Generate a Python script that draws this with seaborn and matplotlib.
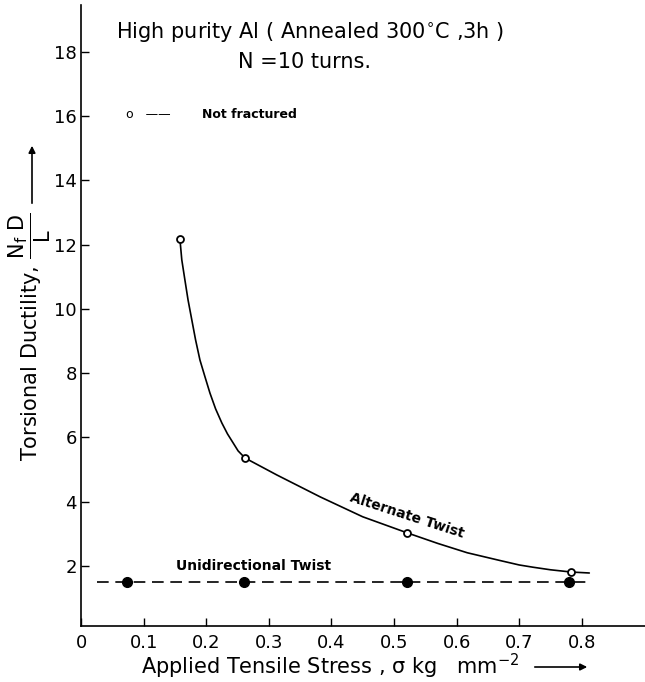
import matplotlib
matplotlib.use('Agg')
import matplotlib.pyplot as plt
import seaborn as sns
import pandas as pd

# ---- data ----
# alternate twist: points along the drawn curve
alt_curve_x = [0.158, 0.161, 0.166, 0.171, 0.177, 0.183, 0.190, 0.198, 0.206,
               0.215, 0.225, 0.234, 0.243, 0.251, 0.262, 0.313, 0.382, 0.450,
               0.521, 0.570, 0.617, 0.669, 0.700, 0.722, 0.750, 0.783, 0.812]
alt_curve_y = [12.18, 11.53, 10.90, 10.28, 9.66, 9.04, 8.41, 7.89, 7.38,
               6.89, 6.45, 6.11, 5.83, 5.58, 5.36, 4.83, 4.15, 3.53,
               3.03, 2.70, 2.41, 2.17, 2.03, 1.96, 1.88, 1.81, 1.78]
# alternate twist: measured points (not fractured, open circles)
alt_x = [0.158, 0.262, 0.521, 0.783]
alt_y = [12.18, 5.36, 3.03, 1.81]
# unidirectional twist: measured points (filled) and dashed line extent
uni_x = [0.073, 0.260, 0.520, 0.780]
uni_y = [1.50, 1.50, 1.50, 1.50]
uni_line_x = [0.026, 0.807]
uni_line_y = [1.50, 1.50]

x_ticks = [0, 0.1, 0.2, 0.3, 0.4, 0.5, 0.6, 0.7, 0.8]
x_tick_labels = ['0', '0.1', '0.2', '0.3', '0.4', '0.5', '0.6', '0.7', '0.8']
y_ticks = [2, 4, 6, 8, 10, 12, 14, 16, 18]

sns.set_style('ticks')
plt.rcParams['font.family'] = ['DejaVu Sans']
plt.rcParams['mathtext.fontset'] = 'dejavusans'
plt.rcParams['text.color'] = 'black'

fig = plt.figure(figsize=(6.45, 6.82), dpi=100)
ax = fig.add_axes([81 / 645, 56 / 682, 564 / 645, 621 / 682])

df_curve = pd.DataFrame({'x': alt_curve_x, 'y': alt_curve_y})
sns.lineplot(data=df_curve, x='x', y='y', sort=False, estimator=None,
             color='black', lw=1.2, ax=ax)
df_uni_line = pd.DataFrame({'x': uni_line_x, 'y': uni_line_y})
sns.lineplot(data=df_uni_line, x='x', y='y', sort=False, estimator=None,
             color='black', lw=1.2, ax=ax)
ax.lines[-1].set_dashes([7, 4])

ax.plot(alt_x, alt_y, 'o', ms=5, mfc='white', mec='black', mew=1.3, zorder=3)
ax.plot(uni_x, uni_y, 'o', ms=7, color='black', zorder=3)

ax.set_xlim(0, 0.901)
ax.set_ylim(0.13, 19.46)
ax.set_xticks(x_ticks)
ax.set_xticklabels(x_tick_labels)
ax.set_yticks(y_ticks)
ax.tick_params(direction='in', length=6, width=1, labelsize=13,
               colors='black', labelcolor='black')
ax.tick_params(axis='x', pad=6)
ax.tick_params(axis='y', pad=3)
ax.set_xlabel('')
ax.set_ylabel('')
sns.despine(ax=ax)
for s in ['left', 'bottom']:
    ax.spines[s].set_linewidth(1.2)
    ax.spines[s].set_color('black')

# annotations
ax.text(0.52, 3.56, 'Alternate Twist', rotation=-18, ha='center', va='center',
        fontsize=10, fontweight='bold')
ax.text(0.276, 2.0, 'Unidirectional Twist', ha='center', va='center',
        fontsize=10, fontweight='bold')

# titles
fig.text(310 / 645, 1 - 32 / 682, r'High purity Al ( Annealed 300$^{\circ}$C ,3h )',
         ha='center', va='center', fontsize=15)
fig.text(305 / 645, 1 - 62 / 682, 'N =10 turns.', ha='center', va='center', fontsize=15)

# not-fractured key
fig.text(126 / 645, 1 - 115 / 682, 'o   ——', ha='left', va='center', fontsize=9)
fig.text(202 / 645, 1 - 115 / 682, 'Not fractured', ha='left', va='center',
         fontsize=9, fontweight='bold')

# axis labels
fig.text(330 / 645, 1 - 666 / 682, r'Applied Tensile Stress , σ kg   mm$^{-2}$',
         ha='center', va='center', fontsize=15)
fig.text(30 / 645, 1 - 337 / 682,
         r'Torsional Ductility, $\dfrac{\mathrm{N_f\ D}}{\mathrm{L}}$',
         ha='center', va='center', rotation=90, fontsize=15)
fig.patches.append(matplotlib.patches.FancyArrowPatch(
    (532 / 645, 1 - 667 / 682), (590 / 645, 1 - 667 / 682),
    transform=fig.transFigure, arrowstyle='-|>', mutation_scale=10, color='black', lw=1.2))
fig.patches.append(matplotlib.patches.FancyArrowPatch(
    (32 / 645, 1 - 206 / 682), (32 / 645, 1 - 143 / 682),
    transform=fig.transFigure, arrowstyle='-|>', mutation_scale=10, color='black', lw=1.2))

fig.savefig('out.png', dpi=100, facecolor='white')
